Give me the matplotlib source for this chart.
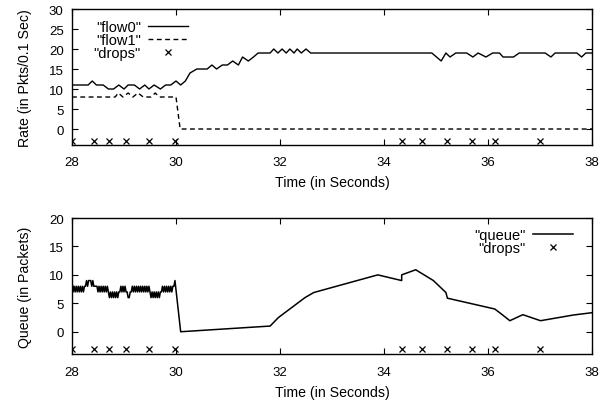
import numpy as np
import matplotlib
matplotlib.use('Agg')
import matplotlib.pyplot as plt

plt.rcParams['font.family'] = ['Liberation Sans', 'DejaVu Sans']
plt.rcParams['font.size'] = 9.5

# Per-flow rate samples (packets per 0.1 s)
flow0_t = [28.0, 28.31, 28.39, 28.47, 28.6, 28.7, 28.8, 28.9, 29.0, 29.08,
           29.2, 29.3, 29.4, 29.48, 29.58, 29.7, 29.8, 29.9, 30.0, 30.09,
           30.18, 30.27, 30.4, 30.6, 30.69, 30.78, 30.89, 30.99, 31.09, 31.2,
           31.28, 31.39, 31.49, 31.58, 31.81, 31.88, 31.96, 32.04, 32.12, 32.19,
           32.27, 32.33, 32.41, 32.5, 32.59, 34.92, 35.10, 35.19, 35.27, 35.38,
           35.59, 35.71, 35.81, 35.96, 36.09, 36.22, 36.29, 36.49, 36.6, 37.1,
           37.21, 37.29, 37.71, 37.8, 37.88, 38.0]
flow0_v = [11, 11, 12, 11, 11, 10, 10, 11, 10, 11,
           11, 10, 11, 10, 11, 10, 11, 11, 12, 11,
           12, 14, 15, 15, 16, 15, 16, 16, 17, 16,
           18, 17, 18, 19, 19, 20, 19, 20, 19, 20,
           19, 20, 19, 20, 19, 19, 17, 19, 18, 19,
           19, 18, 19, 18, 19, 19, 18, 18, 19, 19,
           18, 19, 19, 18, 19, 19]

flow1_t = [28.0, 28.83, 28.89, 28.98, 29.08, 29.17, 29.27, 29.37, 29.52, 29.6,
           29.68, 30.0, 30.08, 38.0]
flow1_v = [8, 8, 9, 8, 9, 8, 9, 8, 8, 9,
           8, 8, 0, 0]

# Packet drop times, plotted on a baseline below zero
drop_t = [28.0, 28.43, 28.72, 29.04, 29.49, 29.99,
          34.34, 34.74, 35.21, 35.69, 36.13, 37.0]
drop_level = -3

# Queue length: dense samples every 20 ms up to 30 s, sparse afterwards
queue_dense_start = 28.0
queue_dense_step = 0.02
queue_dense_v = [9, 7, 8, 7, 8, 7, 8, 7, 8, 7,
                 8, 7, 8, 8, 9, 8, 9, 9, 9, 8,
                 9, 8, 8, 8, 8, 7, 8, 7, 8, 7,
                 8, 7, 8, 7, 8, 7, 6, 7, 6, 7,
                 6, 7, 6, 7, 6, 7, 7, 8, 7, 8,
                 7, 8, 7, 7, 6, 6, 7, 7, 8, 7,
                 8, 7, 8, 7, 8, 7, 8, 7, 8, 7,
                 8, 7, 8, 7, 8, 7, 6, 7, 6, 7,
                 6, 7, 6, 7, 6, 7, 7, 8, 7, 8,
                 7, 8, 7, 8, 7, 8, 7, 8, 8, 9]
queue_sparse_t = [30.09, 31.81, 31.97, 32.48, 32.65, 33.88, 34.34, 34.34,
                  34.61, 34.95, 35.19, 35.22, 36.13, 36.26, 36.42, 36.67,
                  37.01, 37.64, 38.0]
queue_sparse_v = [0, 1.0, 2.5, 6.0, 6.9, 10.0, 9.0, 10.0,
                  10.9, 9.0, 6.9, 5.9, 4.0, 3.1, 1.94, 3.0,
                  1.94, 2.94, 3.35]

queue_t = list(queue_dense_start + queue_dense_step * np.arange(len(queue_dense_v))) + queue_sparse_t
queue_v = queue_dense_v + queue_sparse_v

drop_y = [drop_level] * len(drop_t)

LABEL_SIZE = 10.2
LEGEND_SIZE = 10.5


def style_axes(ax, yticks):
  ax.set_xlim(28, 38)
  ax.set_xticks(np.arange(28, 39, 2))
  ax.set_yticks(yticks)
  ax.tick_params(direction='in', top=True, right=True, length=4.5,
                 width=0.8, labelsize=9.5)
  ax.tick_params(axis='x', pad=8)
  ax.tick_params(axis='y', pad=6)
  for sp in ax.spines.values():
    sp.set_linewidth(1.0)
  ax.set_xlabel('Time (in Seconds)', fontsize=LABEL_SIZE, labelpad=5)


fig = plt.figure(figsize=(6.06, 4.02), dpi=100)

# Rate plot
ax1 = fig.add_axes([0.1188, 0.6368, 0.8581, 0.3383])
ax1.plot(flow0_t, flow0_v, '-', color='k', lw=1.0, label='"flow0"')
ax1.plot(flow1_t, flow1_v, '--', color='k', lw=1.0, dashes=(3.5, 2.5),
         label='"flow1"')
ax1.plot(drop_t, drop_y, 'x', color='k', ms=5, mew=0.9, label='"drops"')
ax1.set_ylim(-4, 30)
style_axes(ax1, np.arange(0, 31, 5))
ax1.set_ylabel('Rate (in Pkts/0.1 Sec)', fontsize=LABEL_SIZE, labelpad=12)
ax1.legend(loc='upper left', bbox_to_anchor=(0.025, 0.985), frameon=False,
           markerfirst=False, handlelength=2.75, labelspacing=-0.05,
           borderaxespad=0.2, handletextpad=0.5, fontsize=LEGEND_SIZE)

# Queue plot
ax2 = fig.add_axes([0.1188, 0.1157, 0.8581, 0.3395])
ax2.plot(queue_t, queue_v, '-', color='k', lw=1.1, label='"queue"')
ax2.plot(drop_t, drop_y, 'x', color='k', ms=5, mew=0.9, label='"drops"')
ax2.set_ylim(-4, 20)
style_axes(ax2, np.arange(0, 21, 5))
ax2.set_ylabel('Queue (in Packets)', fontsize=LABEL_SIZE, labelpad=12)
ax2.legend(loc='upper right', bbox_to_anchor=(0.98, 0.99), frameon=False,
           markerfirst=False, handlelength=2.75, labelspacing=-0.05,
           borderaxespad=0.2, handletextpad=0.5, fontsize=LEGEND_SIZE)

fig.savefig('out.png', dpi=100)
